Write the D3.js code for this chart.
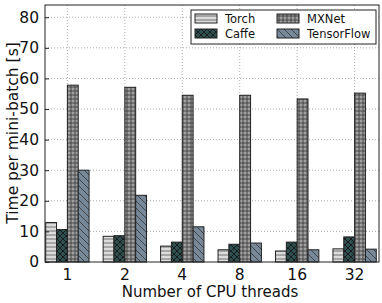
<!DOCTYPE html>
<html>
<head>
<meta charset="utf-8">
<script src="https://cdn.jsdelivr.net/npm/d3@7"></script>
<style>
  body { margin: 0; background: #fff; }
  text { font-family: "DejaVu Sans", sans-serif; }
</style>
</head>
<body>
<div id="chart"></div>
<script>
var threads = ["1", "2", "4", "8", "16", "32"];
var frameworks = ["Torch", "Caffe", "MXNet", "TensorFlow"];
var torch = [12.9, 8.4, 5.2, 4.0, 3.6, 4.3];
var caffe = [10.6, 8.6, 6.5, 5.8, 6.5, 8.2];
var mxnet = [57.8, 57.1, 54.5, 54.5, 53.3, 55.2];
var tensorflow = [30.0, 21.8, 11.5, 6.2, 4.0, 4.2];
var yTicks = [0, 10, 20, 30, 40, 50, 60, 70, 80];

var series = [torch, caffe, mxnet, tensorflow];
var fills = ["#dcdcdc", "#2f4f4f", "#a0a0a0", "#778899"];

var width = 382, height = 303;
var margin = {top: 5, right: 3, bottom: 41, left: 45};
var plotW = width - margin.left - margin.right,
    plotH = height - margin.top - margin.bottom;

var svg = d3.select("#chart").append("svg")
    .attr("width", width)
    .attr("height", height);

// hatch patterns
var defs = svg.append("defs");
function pattern(id, size, fill, draw) {
    var p = defs.append("pattern")
        .attr("id", id)
        .attr("patternUnits", "userSpaceOnUse")
        .attr("width", size)
        .attr("height", size);
    p.append("rect").attr("width", size).attr("height", size).attr("fill", fill);
    draw(p);
}
var hc = "#333", hw = 0.8;
pattern("h-torch", 4, fills[0], function(p) {
    p.append("line").attr("x1", 0).attr("x2", 4).attr("y1", 2).attr("y2", 2)
        .attr("stroke", "#555").attr("stroke-width", hw);
});
pattern("h-caffe", 6, fills[1], function(p) {
    p.append("path").attr("d", "M0,0L6,6M6,0L0,6")
        .attr("stroke", "#111").attr("stroke-width", hw);
});
pattern("h-mxnet", 4, fills[2], function(p) {
    p.append("path").attr("d", "M0,2H4M2,0V4")
        .attr("stroke", hc).attr("stroke-width", hw);
});
pattern("h-tf", 7, fills[3], function(p) {
    p.append("path").attr("d", "M0,0L7,7M-7,0L0,7M0,-7L7,0")
        .attr("stroke", hc).attr("stroke-width", hw);
});
var patIds = ["h-torch", "h-caffe", "h-mxnet", "h-tf"];

var g = svg.append("g")
    .attr("transform", "translate(" + margin.left + "," + margin.top + ")");

var y = d3.scaleLinear().domain([0, 84]).range([plotH, 0]);

var step = 55.1;
var x0 = d3.scaleBand()
    .domain(threads)
    .range([0.7, 0.7 + step * threads.length])
    .paddingInner(0.245)
    .paddingOuter(0)
    .align(0);
var x1 = d3.scaleBand()
    .domain(frameworks)
    .range([0, x0.bandwidth()]);

// grid
g.append("g").selectAll("line")
    .data(yTicks.slice(1))
    .join("line")
    .attr("x1", 0).attr("x2", plotW)
    .attr("y1", function(d) { return y(d); })
    .attr("y2", function(d) { return y(d); })
    .attr("stroke", "#999").attr("stroke-width", 0.8)
    .attr("stroke-dasharray", "1,2");
g.append("g").selectAll("line")
    .data(threads)
    .join("line")
    .attr("x1", function(d) { return x0(d) + x0.bandwidth() / 2; })
    .attr("x2", function(d) { return x0(d) + x0.bandwidth() / 2; })
    .attr("y1", 0).attr("y2", plotH)
    .attr("stroke", "#999").attr("stroke-width", 0.8)
    .attr("stroke-dasharray", "1,2");

// bars
series.forEach(function(vals, si) {
    g.append("g").selectAll("rect")
        .data(vals)
        .join("rect")
        .attr("x", function(d, i) { return x0(threads[i]) + x1(frameworks[si]); })
        .attr("y", function(d) { return y(d); })
        .attr("width", x1.bandwidth())
        .attr("height", function(d) { return plotH - y(d); })
        .attr("fill", "url(#" + patIds[si] + ")")
        .attr("stroke", "#222")
        .attr("stroke-width", 1);
});

// axes
var yAxis = d3.axisLeft(y).tickValues(yTicks).tickSize(-4).tickPadding(6);
var ga = g.append("g").call(yAxis);
ga.select(".domain").remove();
ga.selectAll("text").attr("font-size", 15.5).attr("fill", "#111");
ga.selectAll("line").attr("stroke", "#222");

var xAxis = d3.axisBottom(x0).tickSize(-4).tickPadding(7);
var gx = g.append("g").attr("transform", "translate(0," + plotH + ")").call(xAxis);
gx.select(".domain").remove();
gx.selectAll("text").attr("font-size", 15.5).attr("fill", "#111");
gx.selectAll("line").attr("stroke", "#222");

// frame
g.append("rect")
    .attr("width", plotW).attr("height", plotH)
    .attr("fill", "none").attr("stroke", "#222").attr("stroke-width", 1);

// axis labels
svg.append("text")
    .attr("x", 210)
    .attr("y", 297)
    .attr("text-anchor", "middle")
    .attr("font-size", 15)
    .attr("fill", "#111")
    .text("Number of CPU threads");
svg.append("text")
    .attr("transform", "translate(18," + 133 + ") rotate(-90)")
    .attr("text-anchor", "middle")
    .attr("font-size", 15.5)
    .attr("fill", "#111")
    .text("Time per mini-batch [s]");

// legend
var leg = svg.append("g").attr("transform", "translate(191,10)");
leg.append("rect")
    .attr("width", 185).attr("height", 34)
    .attr("fill", "#fff").attr("stroke", "#222").attr("stroke-width", 1);
frameworks.forEach(function(name, i) {
    var col = i < 2 ? 0 : 1, row = i % 2;
    var item = leg.append("g")
        .attr("transform", "translate(" + (4 + col * 82) + "," + (4 + row * 15) + ")");
    item.append("rect")
        .attr("width", 22).attr("height", 9)
        .attr("fill", "url(#" + patIds[i] + ")")
        .attr("stroke", "#222").attr("stroke-width", 1);
    item.append("text")
        .attr("x", 30).attr("y", 9)
        .attr("font-size", 11.5)
        .attr("fill", "#111")
        .text(name);
});
</script>
</body>
</html>
